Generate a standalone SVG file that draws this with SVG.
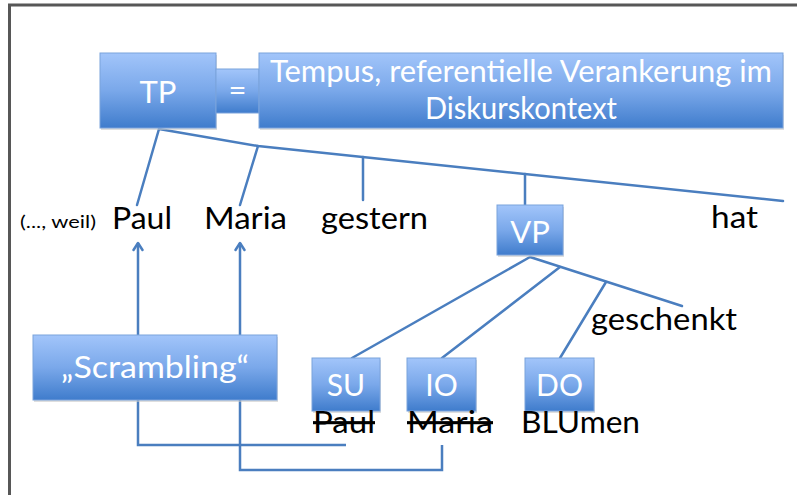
<svg xmlns="http://www.w3.org/2000/svg" width="797" height="495" viewBox="0 0 797 495">
  <style>
    .box { fill: url(#blueFill); stroke: #7aa3dc; stroke-width: 1; }
    .shadow { fill: #c8c8c8; opacity: 0.6; }
    .lbl { font-family: Lato, "Open Sans", sans-serif; fill: #ffffff; text-anchor: middle; }
    .word { font-family: Lato, "Open Sans", sans-serif; fill: #000000; font-size: 31px; }
    .tree { stroke: #4a7ebf; stroke-width: 2.5; fill: none; stroke-linecap: round; }
    .move { stroke: #4a7ebf; stroke-width: 2.5; fill: none; marker-end: url(#openArrow); }
    .frame { stroke: #575757; stroke-width: 3; fill: none; }
    .struck { text-decoration: line-through; }
  </style>
  <defs>
    <linearGradient id="blueFill" x1="0" y1="0" x2="0" y2="1">
      <stop offset="0" stop-color="#a2c5fa"/>
      <stop offset="0.5" stop-color="#7aa8ea"/>
      <stop offset="1" stop-color="#3f7ccc"/>
    </linearGradient>
    <!-- open chevron arrowhead for the movement arrows -->
    <marker id="openArrow" viewBox="0 0 12 12" refX="10" refY="6" markerWidth="12" markerHeight="12" orient="auto" markerUnits="userSpaceOnUse">
      <path d="M3,1.5 L10,6 L3,10.5" fill="none" stroke="#4a7ebf" stroke-width="2.5" stroke-linecap="round" stroke-linejoin="round"/>
    </marker>
  </defs>

  <rect width="797" height="495" fill="#ffffff"/>

  <!-- slide frame -->
  <path class="frame" d="M9.5,495 V5 H797"/>

  <!-- tree and movement connectors -->
  <g id="connectors">
    <polyline class="tree" points="159,129 258,146 783,201"/>
    <line class="tree" x1="159" y1="129" x2="137" y2="205"/>
    <line class="tree" x1="258" y1="146" x2="240" y2="205"/>
    <line class="tree" x1="363" y1="157" x2="363" y2="200"/>
    <line class="tree" x1="525" y1="174" x2="525" y2="205"/>
    <line class="tree" x1="530" y1="257" x2="352" y2="358"/>
    <line class="tree" x1="530" y1="257" x2="682" y2="306"/>
    <line class="tree" x1="560" y1="267" x2="442" y2="358"/>
    <line class="tree" x1="606" y1="282" x2="560" y2="358"/>
    <polyline class="move" points="346,445 138,445 138,243"/>
    <polyline class="move" points="442,445 442,470 240,470 240,243"/>
  </g>

  <g id="tp">
    <rect class="shadow" x="101" y="55" width="116" height="75"/>
    <rect class="box" x="100" y="53" width="116" height="75"/>
    <text class="lbl" x="158" y="103" font-size="31">TP</text>
  </g>

  <g id="equals">
    <rect class="box" x="216" y="69" width="43" height="44"/>
    <text class="lbl" x="237.5" y="101" font-size="31">=</text>
  </g>

  <g id="tempus">
    <rect class="shadow" x="260" y="55" width="524" height="75"/>
    <rect class="box" x="259" y="53" width="524" height="75"/>
    <text class="lbl" x="521" y="82" font-size="30" textLength="502" lengthAdjust="spacingAndGlyphs">Tempus, referentielle Verankerung im</text>
    <text class="lbl" x="521" y="119" font-size="30" textLength="192" lengthAdjust="spacingAndGlyphs">Diskurskontext</text>
  </g>

  <g id="surface-words">
    <text x="20" y="228" font-family="Lato, 'Open Sans', sans-serif" font-size="17" fill="#000000" textLength="76" lengthAdjust="spacingAndGlyphs">(..., weil)</text>
    <text class="word" x="112" y="229" textLength="60" lengthAdjust="spacingAndGlyphs">Paul</text>
    <text class="word" x="204" y="229" textLength="83" lengthAdjust="spacingAndGlyphs">Maria</text>
    <text class="word" x="321" y="229" textLength="107" lengthAdjust="spacingAndGlyphs">gestern</text>
    <text class="word" x="711" y="228" textLength="47" lengthAdjust="spacingAndGlyphs">hat</text>
  </g>

  <g id="vp">
    <rect class="shadow" x="498" y="207" width="66" height="50"/>
    <rect class="box" x="497" y="205" width="66" height="50"/>
    <text class="lbl" x="530" y="243" font-size="31">VP</text>
  </g>

  <g id="geschenkt">
    <text class="word" x="591" y="330" textLength="146" lengthAdjust="spacingAndGlyphs">geschenkt</text>
  </g>

  <g id="scrambling">
    <rect class="shadow" x="34" y="337" width="244" height="65"/>
    <rect class="box" x="33" y="335" width="244" height="65"/>
    <text class="lbl" x="155" y="378" font-size="31" textLength="188" lengthAdjust="spacingAndGlyphs">„Scrambling“</text>
  </g>

  <g id="su">
    <rect class="shadow" x="313" y="360" width="68" height="53"/>
    <rect class="box" x="312" y="358" width="68" height="53"/>
    <text class="lbl" x="346" y="396" font-size="30">SU</text>
  </g>

  <g id="io">
    <rect class="shadow" x="408" y="360" width="69" height="53"/>
    <rect class="box" x="407" y="358" width="69" height="53"/>
    <text class="lbl" x="441.5" y="396" font-size="30">IO</text>
  </g>

  <g id="do">
    <rect class="shadow" x="526" y="360" width="69" height="53"/>
    <rect class="box" x="525" y="358" width="69" height="53"/>
    <text class="lbl" x="559.5" y="396" font-size="30">DO</text>
  </g>

  <g id="base-words">
    <text class="word struck" x="313" y="433" textLength="62" lengthAdjust="spacingAndGlyphs">Paul</text>
    <text class="word struck" x="407" y="433" textLength="86" lengthAdjust="spacingAndGlyphs">Maria</text>
    <text class="word" x="521" y="433" textLength="119" lengthAdjust="spacingAndGlyphs">BLUmen</text>
  </g>
</svg>
